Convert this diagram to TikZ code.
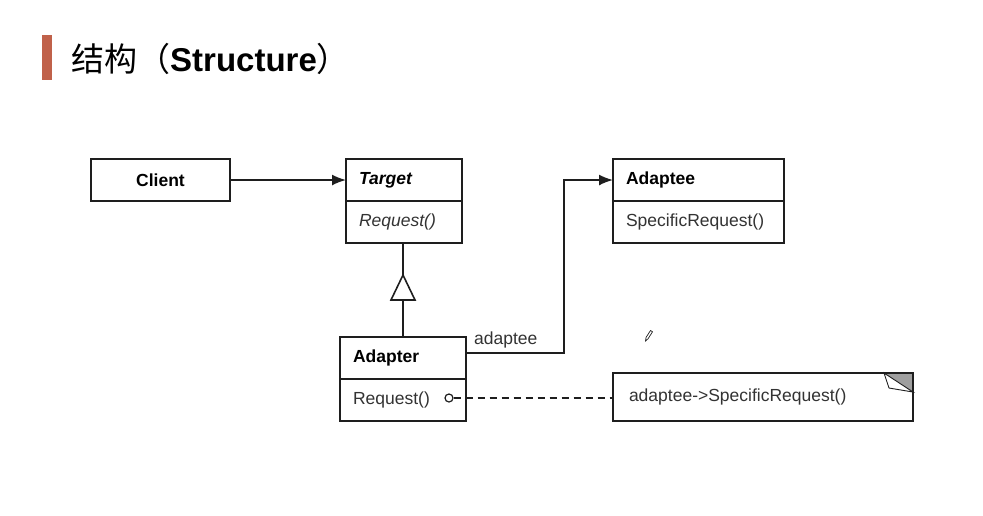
\documentclass[tikz,border=0pt]{standalone}
\usepackage{fontspec}
\setmainfont{Liberation Sans}
\newfontfamily\cjk{Noto Sans CJK SC}
\usetikzlibrary{arrows.meta}
\definecolor{barred}{HTML}{C0614A}
\definecolor{ink}{HTML}{1E1E1E}
\definecolor{txt}{HTML}{333333}
\tikzset{
  compart/.style={draw=ink, line width=1.7pt, inner xsep=13pt, inner ysep=0pt, outer sep=0pt,
    minimum height=42pt, align=left, anchor=north west,
    font=\fontsize{17.5}{20}\selectfont, text=txt},
  link/.style={draw=ink, line width=1.6pt},
  navi/.style={link, -{Latex[length=14pt,width=11pt]}},
}
\begin{document}
\begin{tikzpicture}[x=1pt,y=-1pt]
\useasboundingbox[fill=white] (0,0) rectangle (983,515);

% heading
\fill[barred] (42,35) rectangle (52,80);
\node[anchor=base west, inner sep=0pt, font=\fontsize{33}{36}\selectfont] (title) at (71,71)
  {{\cjk 结构（}\textbf{Structure}{\cjk ）}};

% classes
\node[compart, text width=113pt, align=center, text=black] (client) at (91,159) {\textbf{Client}};

\node[compart, text width=90pt, text=black] (target) at (346,159) {\textbf{\textit{Target}}};
\node[compart, text width=90pt] (targetops) at (target.south west) {\textit{Request()}};

\node[compart, text width=145pt, text=black] (adaptee) at (613,159) {\textbf{Adaptee}};
\node[compart, text width=145pt] (adapteeops) at (adaptee.south west) {SpecificRequest()};

\node[compart, text width=100pt, text=black] (adapter) at (340,337) {\textbf{Adapter}};
\node[compart, text width=100pt] (adapterops) at (adapter.south west) {Request()};

% note with folded corner
\node[compart, text width=268pt, minimum height=48pt, inner xsep=16pt] (note) at (613,373) {adaptee{-}{>}SpecificRequest()};
\fill[gray!75] (884,373) -- (913,373) -- (913,392) -- cycle;
\draw[ink, line width=0.9pt, fill=white] (884,373) -- (913,392) -- (889,388) -- cycle;
\draw[ink, line width=1.7pt] (884,373) -- (913,373) -- (913,392);

% client -> target
\draw[navi] (client.east) -- (target.west);

% generalization adapter -> target
\draw[link] (adapter.north) -- (adapter.north |- targetops.south);
\draw[link, fill=white] ([xshift=-12pt]adapter.north |- 0,300) -- ([xshift=12pt]adapter.north |- 0,300)
  -- (adapter.north |- 0,275) -- cycle;

% adaptee association
\coordinate (bend) at (564,353);
\draw[navi] (adapter.east |- bend) -- (bend) |- (adaptee.west);
\node[anchor=base west, inner sep=0pt, font=\fontsize{17.5}{20}\selectfont, text=txt] (role) at (474,344) {adaptee};

% implementation note link
\node[circle, draw=ink, line width=1.2pt, fill=white, inner sep=0pt, minimum size=8pt] (dot) at (449,398) {};
\draw[link, line width=1.4pt, dash pattern=on 7pt off 5pt] (dot.east) -- (note.west |- dot);

% pencil cursor
\draw[ink, line width=0.7pt, fill=white] (645.5,341) -- (646,337.5) -- (650.5,330.5) -- (652.5,331.8) -- (648,338.8) -- cycle;
\end{tikzpicture}
\end{document}
